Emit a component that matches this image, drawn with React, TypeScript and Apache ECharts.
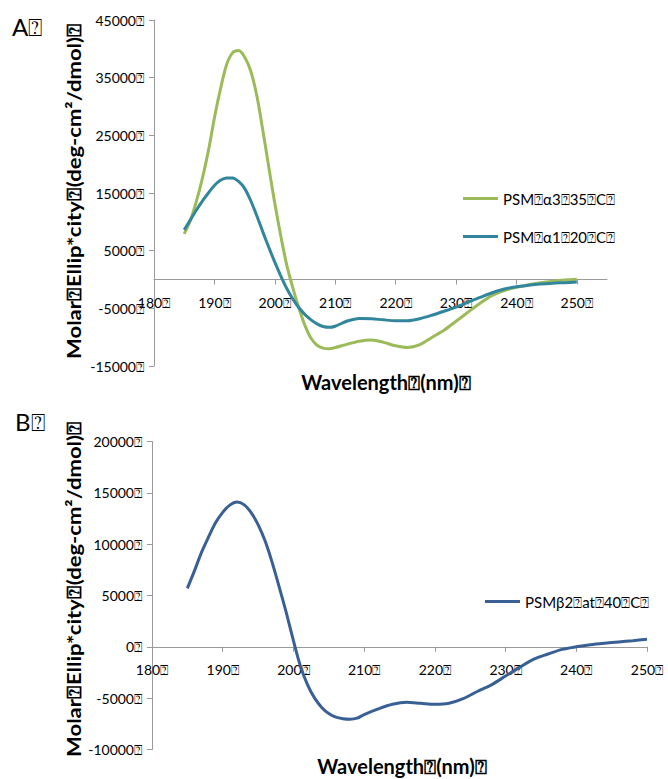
import React, { useEffect, useRef } from "react";
import * as echarts from "echarts";

const BOX = "\u2370";

// Panel A data (wavelength in nm, molar ellipticity)
const wavelengthsA = [185, 186, 187, 188, 189, 190, 191, 192, 193, 194, 195, 196, 197, 198, 199, 200, 201, 202, 203, 204, 205, 206, 207, 208, 209, 210, 212, 214, 216, 218, 220, 222, 224, 226, 228, 230, 232, 234, 236, 238, 240, 242, 244, 246, 248, 250];
const psmAlpha3 = [7900, 10200, 13500, 17500, 22300, 28000, 33000, 37200, 39300, 39700, 38600, 36200, 32000, 26000, 19500, 13200, 7500, 2400, -1500, -5000, -8000, -10200, -11400, -11900, -12000, -11800, -11200, -10700, -10500, -10900, -11500, -11800, -11300, -10050, -8800, -7250, -5650, -4100, -2750, -1900, -1350, -900, -550, -300, -100, 30];
const psmAlpha1 = [8600, 10300, 12000, 13600, 15000, 16300, 17200, 17600, 17600, 17000, 15800, 13700, 11100, 8300, 5600, 3000, 600, -1600, -3400, -4900, -6100, -7000, -7700, -8150, -8300, -8100, -7200, -6750, -6800, -7000, -7150, -7150, -6800, -6200, -5500, -4800, -3900, -3100, -2300, -1650, -1250, -1000, -800, -650, -550, -450];

// Panel B data
const wavelengthsB = [185, 186, 187, 188, 189, 190, 191, 192, 193, 194, 195, 196, 197, 198, 199, 200, 201, 202, 203, 204, 205, 206, 207, 208, 209, 210, 212, 214, 216, 218, 220, 222, 224, 226, 228, 230, 232, 234, 236, 238, 240, 242, 244, 246, 248, 250];
const psmBeta2 = [5700, 7400, 9200, 10700, 12100, 13100, 13800, 14100, 13850, 13100, 11900, 10300, 8200, 5800, 3300, 600, -1900, -3700, -5000, -5900, -6500, -6850, -7000, -7050, -6950, -6600, -6050, -5600, -5400, -5500, -5600, -5500, -5050, -4350, -3700, -2850, -2000, -1200, -700, -250, 0, 200, 350, 480, 600, 730];

// Tick values
const xTicks = [180, 190, 200, 210, 220, 230, 240, 250];
const yTicksA = [-15000, -5000, 5000, 15000, 25000, 35000, 45000];
const yTicksB = [-10000, -5000, 0, 5000, 10000, 15000, 20000];

const seriesNameA3 = "PSM" + BOX + "\u03b13" + BOX + "35" + BOX + "C" + BOX;
const seriesNameA1 = "PSM" + BOX + "\u03b11" + BOX + "20" + BOX + "C" + BOX;
const seriesNameB2 = "PSM\u03b22" + BOX + "at" + BOX + "40" + BOX + "C" + BOX;
const yTitle = "Molar" + BOX + "Ellip*city" + BOX + "(deg-cm\u00b2/dmol)" + BOX;
const xTitle = "Wavelength" + BOX + "(nm)" + BOX;

const FONT = "Lato, 'Noto Sans', sans-serif";
const AXIS_COLOR = "#9a9a9a";

// grid geometry
const GA = { left: 154, top: 20, width: 453, height: 346 };
const GB = { left: 152, top: 441.5, width: 495, height: 308 };
const zeroOffsetA = GA.height * (0 - -15000) / 60000; // distance from bottom to y=0
const zeroOffsetB = GB.height * (0 - -10000) / 30000;

function xAxisCfg(gridIndex: number, max: number, offset: number, nameGap: number, padLeft: number) {
  return {
    type: "value",
    gridIndex,
    min: 180,
    max,
    position: "bottom",
    offset: -offset,
    name: xTitle,
    nameLocation: "middle",
    nameGap,
    nameTextStyle: { fontFamily: FONT, fontWeight: "bold", fontSize: 20, color: "#000", padding: [0, 0, 0, padLeft] },
    axisLine: { show: true, onZero: false, lineStyle: { color: AXIS_COLOR, width: 1 } },
    axisTick: { show: true, length: 5, inside: false, customValues: xTicks, lineStyle: { color: AXIS_COLOR } },
    axisLabel: {
      customValues: xTicks,
      formatter: (v: number) => v + BOX,
      margin: 16,
      fontFamily: FONT,
      fontSize: 14,
      color: "#000",
    },
    splitLine: { show: false },
  };
}

function yAxisCfg(gridIndex: number, min: number, max: number, ticks: number[]) {
  return {
    type: "value",
    gridIndex,
    min,
    max,
    axisLine: { show: true, onZero: false, lineStyle: { color: AXIS_COLOR, width: 1 } },
    axisTick: { show: true, length: 5, inside: false, customValues: ticks, lineStyle: { color: AXIS_COLOR } },
    axisLabel: {
      customValues: ticks,
      formatter: (v: number) => v + BOX,
      margin: 10,
      fontFamily: FONT,
      fontSize: 14,
      color: "#000",
    },
    splitLine: { show: false },
  };
}

function legendCfg(name: string, left: number, centerY: number) {
  return {
    left,
    top: centerY - 8,
    icon: "rect",
    itemWidth: 35,
    itemHeight: 3,
    textStyle: { fontFamily: FONT, fontSize: 15, color: "#000" },
    data: [name],
  };
}

function yTitleGraphic(cy: number) {
  return {
    type: "text",
    x: 74,
    y: cy,
    rotation: Math.PI / 2,
    scaleX: 1.16,
    style: {
      text: yTitle,
      font: "bold 19px " + FONT,
      fill: "#000",
      textAlign: "center",
      textVerticalAlign: "middle",
      align: "center",
      verticalAlign: "middle",
    },
  };
}

export default function App() {
  const ref = useRef<HTMLDivElement>(null);
  useEffect(() => {
    document.body.style.margin = "0";
    const chart = echarts.init(ref.current!, null, { renderer: "svg" });
    chart.setOption({
      animation: false,
      backgroundColor: "#fff",
      grid: [
        { ...GA, outerBoundsMode: "none", containLabel: false },
        { ...GB, outerBoundsMode: "none", containLabel: false },
      ],
      xAxis: [
        xAxisCfg(0, 255, zeroOffsetA, 92, 11),
        xAxisCfg(1, 250, zeroOffsetB, 109, 5),
      ],
      yAxis: [yAxisCfg(0, -15000, 45000, yTicksA), yAxisCfg(1, -10000, 20000, yTicksB)],
      legend: [
        legendCfg(seriesNameA3, 458, 194),
        legendCfg(seriesNameA1, 458, 232),
        legendCfg(seriesNameB2, 480, 597),
      ],
      graphic: [
        { type: "text", left: 12, top: 14, style: { text: "A" + BOX, font: "24px " + FONT, fill: "#000" } },
        { type: "text", left: 15, top: 409, style: { text: "B" + BOX, font: "24px " + FONT, fill: "#000" } },
        yTitleGraphic(191),
        yTitleGraphic(589),
      ],
      series: [
        {
          name: seriesNameA3,
          type: "line",
          xAxisIndex: 0,
          yAxisIndex: 0,
          symbol: "none",
          smooth: 0.3,
          lineStyle: { color: "#9BBB59", width: 3 },
          itemStyle: { color: "#9BBB59" },
          data: wavelengthsA.map((w, i) => [w, psmAlpha3[i]]),
        },
        {
          name: seriesNameA1,
          type: "line",
          xAxisIndex: 0,
          yAxisIndex: 0,
          symbol: "none",
          smooth: 0.3,
          lineStyle: { color: "#31859C", width: 3 },
          itemStyle: { color: "#31859C" },
          data: wavelengthsA.map((w, i) => [w, psmAlpha1[i]]),
        },
        {
          name: seriesNameB2,
          type: "line",
          xAxisIndex: 1,
          yAxisIndex: 1,
          symbol: "none",
          smooth: 0.3,
          lineStyle: { color: "#386094", width: 3 },
          itemStyle: { color: "#386094" },
          data: wavelengthsB.map((w, i) => [w, psmBeta2[i]]),
        },
      ],
    });
    return () => chart.dispose();
  }, []);
  return <div ref={ref} style={{ position: "absolute", left: 0, top: 0, width: 668, height: 779 }} />;
}
